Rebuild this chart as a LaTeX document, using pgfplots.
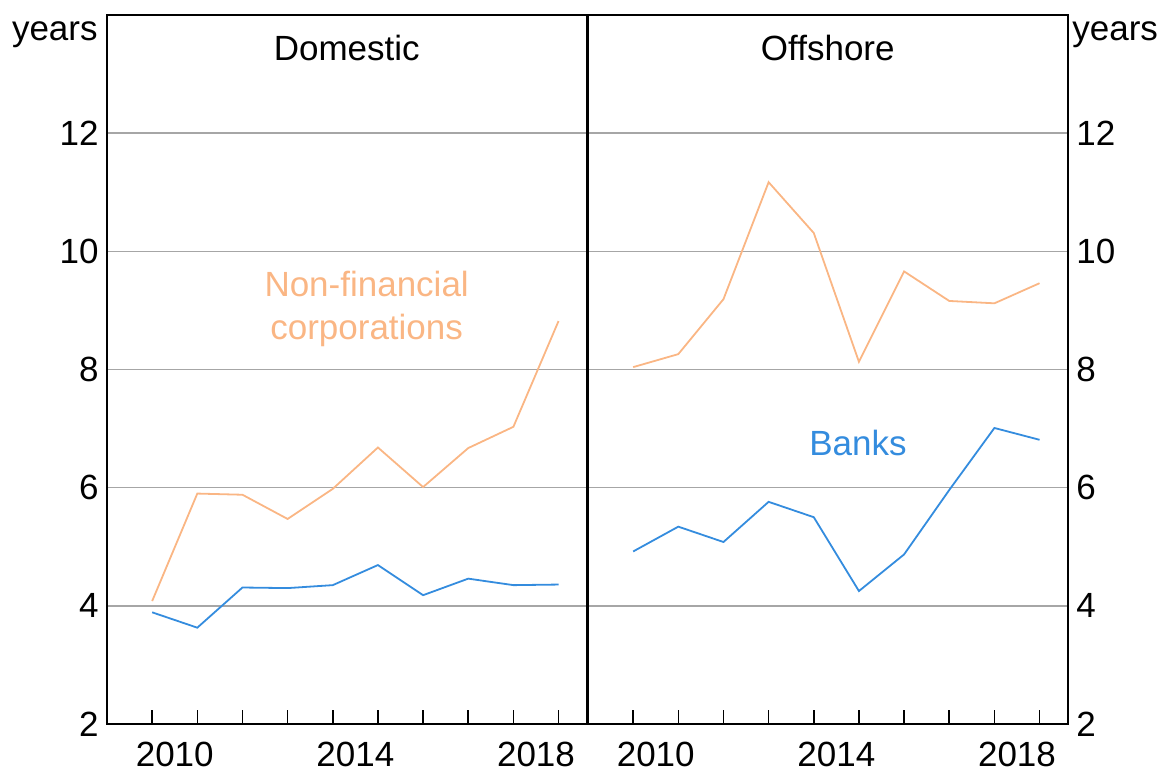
\documentclass[border=0pt]{standalone}
\usepackage{fontspec}
\setmainfont{Liberation Sans}
\usepackage{pgfplots}
\pgfplotsset{compat=1.18}
\definecolor{nfc}{RGB}{250,182,132}
\definecolor{bank}{RGB}{52,140,222}
\begin{document}
\begin{tikzpicture}[font=\fontsize{17.5}{21.5}\selectfont]
\useasboundingbox (0,0) rectangle (581pt,387pt);
\pgfplotsset{
  panel/.style={
    anchor=south west, scale only axis, width=240pt, height=354.5pt,
    xmin=2009, xmax=2019.63, ymin=2, ymax=14,
    ytick={2,4,...,12}, ymajorgrids,
    grid style={draw=black!35, line width=0.8pt},
    axis line style={line width=0.9pt},
    xtick={2010,...,2019}, xticklabels={},
    xtick pos=bottom, tick align=inside,
    major tick length=7pt,
    xtick style={black, line width=0.8pt},
    ytick style={draw=none},
    extra x ticks={2010.5,2014.5,2018.5},
    extra x tick labels={2010,2014,2018},
    extra x tick style={major tick length=0pt},
    x tick label style={inner sep=0pt, yshift=-9pt},
    y tick label style={inner xsep=4pt, inner ysep=0pt},
    /pgf/number format/assume math mode=true,
    clip=false,
  }
}
\begin{axis}[panel, at={(53.5pt,25pt)}, ytick pos=left, yticklabel pos=left]
\addplot[nfc, line width=0.9pt, mark=none] coordinates {
(2010,4.08) (2011,5.90) (2012,5.88) (2013,5.47) (2014,5.98)
(2015,6.68) (2016,6.01) (2017,6.67) (2018,7.03) (2019,8.82)};
\addplot[bank, line width=0.9pt, mark=none] coordinates {
(2010,3.89) (2011,3.63) (2012,4.31) (2013,4.30) (2014,4.35)
(2015,4.69) (2016,4.18) (2017,4.46) (2018,4.35) (2019,4.36)};
\node[text=nfc, align=center] at (axis cs:2014.75,9.03) {Non-financial\\corporations};
\node at (axis cs:2014.31,13.44) {Domestic};
\node[anchor=base east, inner sep=0pt, xshift=-4.5pt] at (axis cs:2009,13.57) {years};
\end{axis}
\begin{axis}[panel, at={(294pt,25pt)}, ytick pos=right, yticklabel pos=right]
\addplot[nfc, line width=0.9pt, mark=none] coordinates {
(2010,8.04) (2011,8.26) (2012,9.19) (2013,11.17) (2014,10.31)
(2015,8.13) (2016,9.66) (2017,9.16) (2018,9.12) (2019,9.46)};
\addplot[bank, line width=0.9pt, mark=none] coordinates {
(2010,4.92) (2011,5.34) (2012,5.08) (2013,5.76) (2014,5.50)
(2015,4.25) (2016,4.87) (2017,5.96) (2018,7.01) (2019,6.81)};
\node[text=bank] at (axis cs:2014.98,6.75) {Banks};
\node at (axis cs:2014.31,13.44) {Offshore};
\node[anchor=base west, inner sep=0pt, xshift=2pt] at (axis cs:2019.63,13.57) {years};
\end{axis}
\end{tikzpicture}
\end{document}
